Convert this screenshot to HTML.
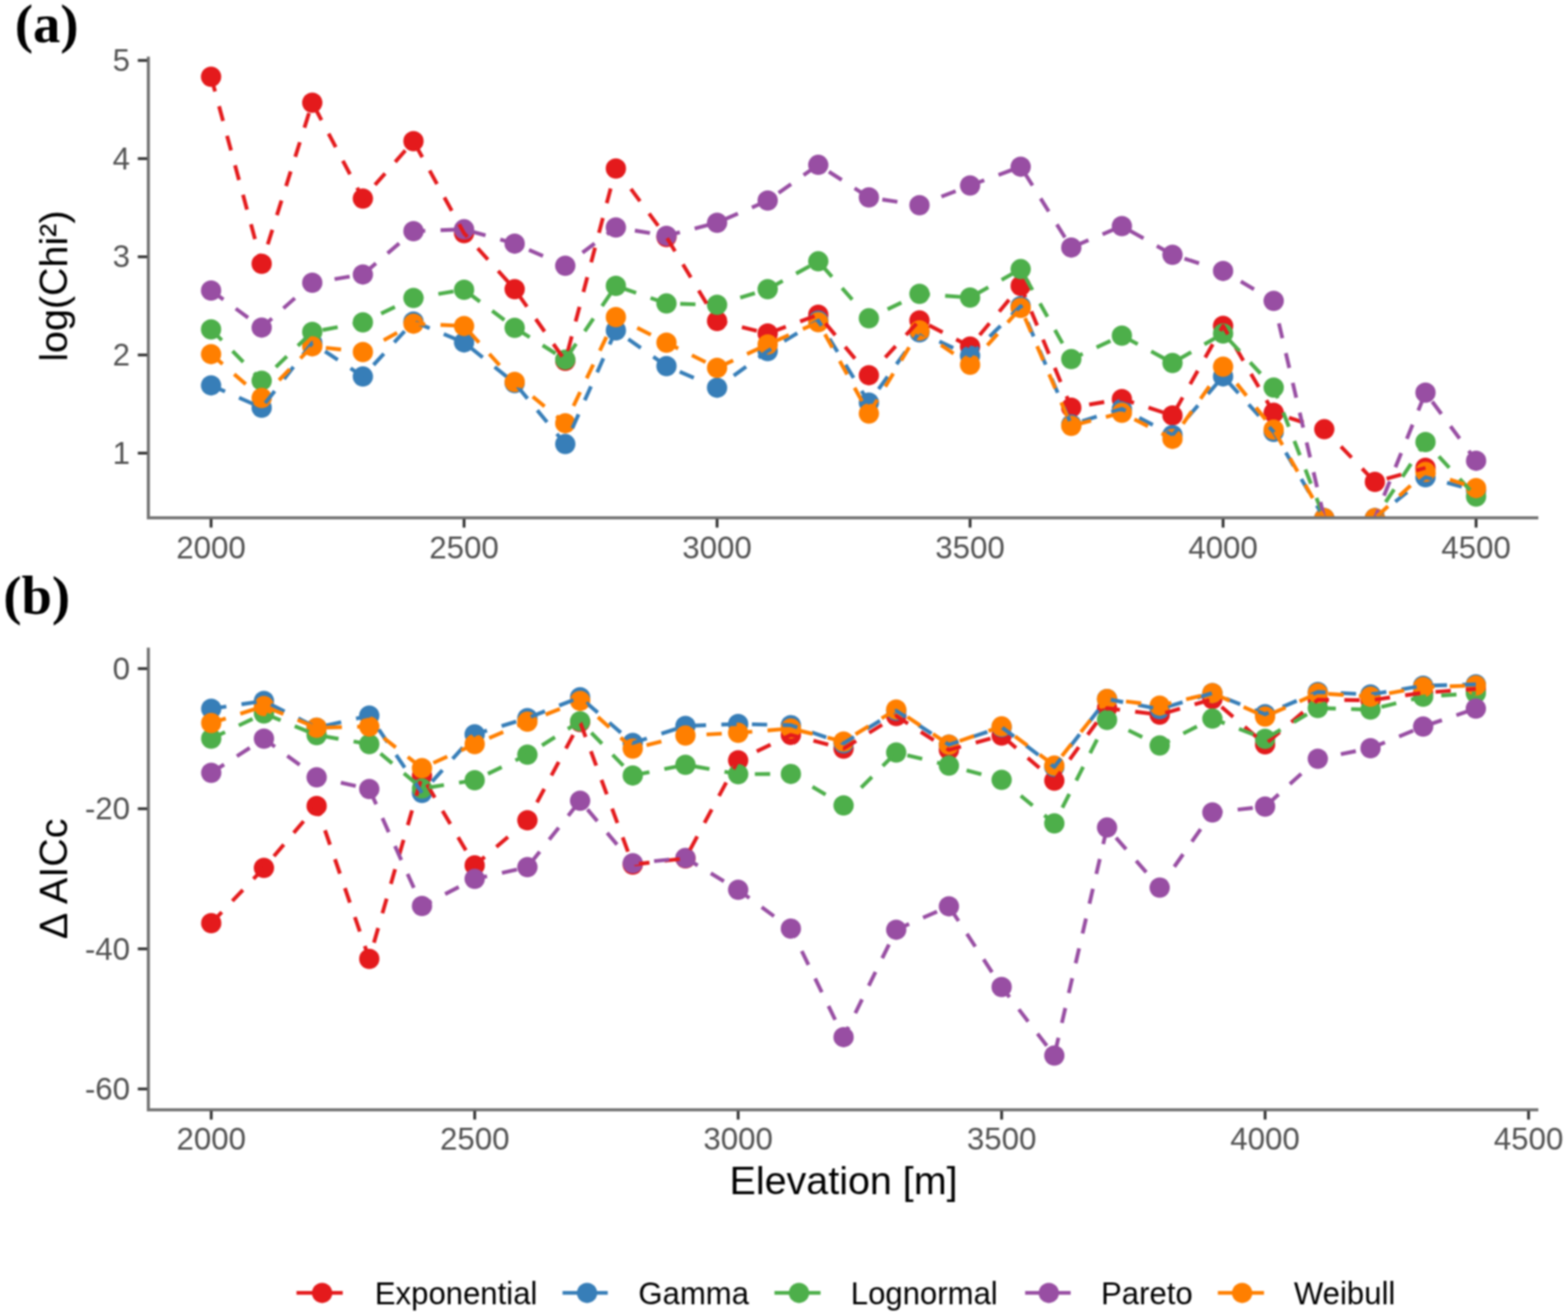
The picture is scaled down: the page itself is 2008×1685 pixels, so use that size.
<!DOCTYPE html>
<html lang="en">
<head>
<meta charset="utf-8">
<title>Goodness of fit by elevation</title>
<style>
html,body{margin:0;padding:0;background:#fff;}
body{width:2008px;height:1685px;overflow:hidden;}
svg{display:block;font-family:"Liberation Sans",Arial,Helvetica,sans-serif;filter:blur(0.8px);}
.tk text{font-size:40px;}
.yl,.xl{font-size:50.5px;fill:#000;}
.lg{font-size:39.85px;fill:#000;}
.pl{font-family:"Liberation Serif","Times New Roman",Times,serif;font-weight:bold;font-size:70px;fill:#000;}
</style>
</head>
<body>
<svg width="2008" height="1685" viewBox="0 0 2008 1685">
<defs>
<clipPath id="ca"><rect x="190" y="72.5" width="1780" height="590.5"/></clipPath>
<clipPath id="cb"><rect x="190" y="829" width="1780" height="592"/></clipPath>
</defs>
<rect width="2008" height="1685" fill="#ffffff"/>
<g id="panel-a">
<g clip-path="url(#ca)">
<g fill="#E41A1C">
<circle cx="270.3" cy="98.2" r="13"/>
<circle cx="335.1" cy="337.7" r="13"/>
<circle cx="399.9" cy="131.5" r="13"/>
<circle cx="464.7" cy="254.3" r="13"/>
<circle cx="529.5" cy="180.8" r="13"/>
<circle cx="594.3" cy="298.6" r="13"/>
<circle cx="659.1" cy="370.3" r="13"/>
<circle cx="723.9" cy="462" r="13"/>
<circle cx="788.7" cy="215.8" r="13"/>
<circle cx="853.5" cy="303.5" r="13"/>
<circle cx="918.3" cy="411" r="13"/>
<circle cx="983.1" cy="427" r="13"/>
<circle cx="1047.9" cy="403" r="13"/>
<circle cx="1112.7" cy="480.4" r="13"/>
<circle cx="1177.5" cy="410.2" r="13"/>
<circle cx="1242.3" cy="443.7" r="13"/>
<circle cx="1307.1" cy="366" r="13"/>
<circle cx="1371.9" cy="521.9" r="13"/>
<circle cx="1436.7" cy="510.9" r="13"/>
<circle cx="1501.5" cy="531.9" r="13"/>
<circle cx="1566.3" cy="417.3" r="13"/>
<circle cx="1631.1" cy="528.5" r="13"/>
<circle cx="1695.9" cy="549.6" r="13"/>
<circle cx="1760.7" cy="617" r="13"/>
<circle cx="1825.5" cy="599" r="13"/>
</g>
<g fill="#377EB8">
<circle cx="270.3" cy="493.4" r="13"/>
<circle cx="335.1" cy="522" r="13"/>
<circle cx="399.9" cy="439" r="13"/>
<circle cx="464.7" cy="482.1" r="13"/>
<circle cx="529.5" cy="411.7" r="13"/>
<circle cx="594.3" cy="438.4" r="13"/>
<circle cx="659.1" cy="490.5" r="13"/>
<circle cx="723.9" cy="568.6" r="13"/>
<circle cx="788.7" cy="423" r="13"/>
<circle cx="853.5" cy="468.7" r="13"/>
<circle cx="918.3" cy="496.4" r="13"/>
<circle cx="983.1" cy="449.5" r="13"/>
<circle cx="1047.9" cy="410.5" r="13"/>
<circle cx="1112.7" cy="515.5" r="13"/>
<circle cx="1177.5" cy="425.5" r="13"/>
<circle cx="1242.3" cy="455.4" r="13"/>
<circle cx="1307.1" cy="392" r="13"/>
<circle cx="1371.9" cy="543.5" r="13"/>
<circle cx="1436.7" cy="523.5" r="13"/>
<circle cx="1501.5" cy="557" r="13"/>
<circle cx="1566.3" cy="481.9" r="13"/>
<circle cx="1631.1" cy="553" r="13"/>
<circle cx="1695.9" cy="663.6" r="13"/>
<circle cx="1760.7" cy="663.6" r="13"/>
<circle cx="1825.5" cy="611" r="13"/>
<circle cx="1890.3" cy="628" r="13"/>
</g>
<g fill="#4DAF4A">
<circle cx="270.3" cy="421.7" r="13"/>
<circle cx="335.1" cy="487.4" r="13"/>
<circle cx="399.9" cy="425" r="13"/>
<circle cx="464.7" cy="412.7" r="13"/>
<circle cx="529.5" cy="381.5" r="13"/>
<circle cx="594.3" cy="371" r="13"/>
<circle cx="659.1" cy="419.7" r="13"/>
<circle cx="723.9" cy="460.4" r="13"/>
<circle cx="788.7" cy="366" r="13"/>
<circle cx="853.5" cy="388.6" r="13"/>
<circle cx="918.3" cy="390.3" r="13"/>
<circle cx="983.1" cy="370.3" r="13"/>
<circle cx="1047.9" cy="334.6" r="13"/>
<circle cx="1112.7" cy="407.6" r="13"/>
<circle cx="1177.5" cy="376.3" r="13"/>
<circle cx="1242.3" cy="381" r="13"/>
<circle cx="1307.1" cy="344.6" r="13"/>
<circle cx="1371.9" cy="459.7" r="13"/>
<circle cx="1436.7" cy="429.7" r="13"/>
<circle cx="1501.5" cy="464.7" r="13"/>
<circle cx="1566.3" cy="427" r="13"/>
<circle cx="1631.1" cy="496.3" r="13"/>
<circle cx="1695.9" cy="663.6" r="13"/>
<circle cx="1760.7" cy="663.6" r="13"/>
<circle cx="1825.5" cy="566" r="13"/>
<circle cx="1890.3" cy="635.8" r="13"/>
</g>
<g fill="#984EA3">
<circle cx="270.3" cy="372" r="13"/>
<circle cx="335.1" cy="419.4" r="13"/>
<circle cx="399.9" cy="362" r="13"/>
<circle cx="464.7" cy="351.4" r="13"/>
<circle cx="529.5" cy="296" r="13"/>
<circle cx="594.3" cy="293.6" r="13"/>
<circle cx="659.1" cy="311.9" r="13"/>
<circle cx="723.9" cy="340.2" r="13"/>
<circle cx="788.7" cy="291.2" r="13"/>
<circle cx="853.5" cy="301.9" r="13"/>
<circle cx="918.3" cy="285.2" r="13"/>
<circle cx="983.1" cy="256.8" r="13"/>
<circle cx="1047.9" cy="211.1" r="13"/>
<circle cx="1112.7" cy="252.8" r="13"/>
<circle cx="1177.5" cy="262.8" r="13"/>
<circle cx="1242.3" cy="237.5" r="13"/>
<circle cx="1307.1" cy="213.4" r="13"/>
<circle cx="1371.9" cy="316.9" r="13"/>
<circle cx="1436.7" cy="289.5" r="13"/>
<circle cx="1501.5" cy="326.2" r="13"/>
<circle cx="1566.3" cy="346.9" r="13"/>
<circle cx="1631.1" cy="385.3" r="13"/>
<circle cx="1695.9" cy="663.6" r="13"/>
<circle cx="1760.7" cy="663.6" r="13"/>
<circle cx="1825.5" cy="502.7" r="13"/>
<circle cx="1890.3" cy="589.9" r="13"/>
</g>
<g fill="#FF7F00">
<circle cx="270.3" cy="453.4" r="13"/>
<circle cx="335.1" cy="509.5" r="13"/>
<circle cx="399.9" cy="443.4" r="13"/>
<circle cx="464.7" cy="450.7" r="13"/>
<circle cx="529.5" cy="414.4" r="13"/>
<circle cx="594.3" cy="417.4" r="13"/>
<circle cx="659.1" cy="489" r="13"/>
<circle cx="723.9" cy="541.9" r="13"/>
<circle cx="788.7" cy="406" r="13"/>
<circle cx="853.5" cy="438.7" r="13"/>
<circle cx="918.3" cy="471" r="13"/>
<circle cx="983.1" cy="441" r="13"/>
<circle cx="1047.9" cy="412.6" r="13"/>
<circle cx="1112.7" cy="529.6" r="13"/>
<circle cx="1177.5" cy="423" r="13"/>
<circle cx="1242.3" cy="467" r="13"/>
<circle cx="1307.1" cy="394.3" r="13"/>
<circle cx="1371.9" cy="545.2" r="13"/>
<circle cx="1436.7" cy="528.6" r="13"/>
<circle cx="1501.5" cy="561.9" r="13"/>
<circle cx="1566.3" cy="469.5" r="13"/>
<circle cx="1631.1" cy="550" r="13"/>
<circle cx="1695.9" cy="663.6" r="13"/>
<circle cx="1760.7" cy="663.6" r="13"/>
<circle cx="1825.5" cy="604.2" r="13"/>
<circle cx="1890.3" cy="624.9" r="13"/>
</g>
<g fill="none" stroke-width="4.9" stroke-dasharray="19.58 19.58" stroke-linejoin="round">
<polyline stroke="#E41A1C" points="270.3,98.2 335.1,337.7 399.9,131.5 464.7,254.3 529.5,180.8 594.3,298.6 659.1,370.3 723.9,462 788.7,215.8 853.5,303.5 918.3,411 983.1,427 1047.9,403 1112.7,480.4 1177.5,410.2 1242.3,443.7 1307.1,366 1371.9,521.9 1436.7,510.9 1501.5,531.9 1566.3,417.3 1631.1,528.5 1695.9,549.6 1760.7,617 1825.5,599"/>
<polyline stroke="#377EB8" points="270.3,493.4 335.1,522 399.9,439 464.7,482.1 529.5,411.7 594.3,438.4 659.1,490.5 723.9,568.6 788.7,423 853.5,468.7 918.3,496.4 983.1,449.5 1047.9,410.5 1112.7,515.5 1177.5,425.5 1242.3,455.4 1307.1,392 1371.9,543.5 1436.7,523.5 1501.5,557 1566.3,481.9 1631.1,553 1695.9,663.6 1760.7,663.6 1825.5,611 1890.3,628"/>
<polyline stroke="#4DAF4A" points="270.3,421.7 335.1,487.4 399.9,425 464.7,412.7 529.5,381.5 594.3,371 659.1,419.7 723.9,460.4 788.7,366 853.5,388.6 918.3,390.3 983.1,370.3 1047.9,334.6 1112.7,407.6 1177.5,376.3 1242.3,381 1307.1,344.6 1371.9,459.7 1436.7,429.7 1501.5,464.7 1566.3,427 1631.1,496.3 1695.9,663.6 1760.7,663.6 1825.5,566 1890.3,635.8"/>
<polyline stroke="#984EA3" points="270.3,372 335.1,419.4 399.9,362 464.7,351.4 529.5,296 594.3,293.6 659.1,311.9 723.9,340.2 788.7,291.2 853.5,301.9 918.3,285.2 983.1,256.8 1047.9,211.1 1112.7,252.8 1177.5,262.8 1242.3,237.5 1307.1,213.4 1371.9,316.9 1436.7,289.5 1501.5,326.2 1566.3,346.9 1631.1,385.3 1695.9,663.6 1760.7,663.6 1825.5,502.7 1890.3,589.9"/>
<polyline stroke="#FF7F00" points="270.3,453.4 335.1,509.5 399.9,443.4 464.7,450.7 529.5,414.4 594.3,417.4 659.1,489 723.9,541.9 788.7,406 853.5,438.7 918.3,471 983.1,441 1047.9,412.6 1112.7,529.6 1177.5,423 1242.3,467 1307.1,394.3 1371.9,545.2 1436.7,528.6 1501.5,561.9 1566.3,469.5 1631.1,550 1695.9,663.6 1760.7,663.6 1825.5,604.2 1890.3,624.9"/>
</g></g>
<g stroke="#767676" stroke-width="4.0" fill="none">
<line x1="190" y1="72.5" x2="190" y2="665.0"/>
<line x1="188.0" y1="663" x2="1970" y2="663"/>
</g>
<g stroke="#333333" stroke-width="3.6">
<line x1="270.3" y1="664.5" x2="270.3" y2="675.5"/>
<line x1="594.3" y1="664.5" x2="594.3" y2="675.5"/>
<line x1="918.3" y1="664.5" x2="918.3" y2="675.5"/>
<line x1="1242.3" y1="664.5" x2="1242.3" y2="675.5"/>
<line x1="1566.3" y1="664.5" x2="1566.3" y2="675.5"/>
<line x1="1890.3" y1="664.5" x2="1890.3" y2="675.5"/>
<line x1="176.5" y1="77.4" x2="188.5" y2="77.4"/>
<line x1="176.5" y1="203.1" x2="188.5" y2="203.1"/>
<line x1="176.5" y1="328.8" x2="188.5" y2="328.8"/>
<line x1="176.5" y1="454.5" x2="188.5" y2="454.5"/>
<line x1="176.5" y1="580.2" x2="188.5" y2="580.2"/>
</g>
<g class="tk" fill="#525252">
<text x="270.3" y="714.5" text-anchor="middle">2000</text>
<text x="594.3" y="714.5" text-anchor="middle">2500</text>
<text x="918.3" y="714.5" text-anchor="middle">3000</text>
<text x="1242.3" y="714.5" text-anchor="middle">3500</text>
<text x="1566.3" y="714.5" text-anchor="middle">4000</text>
<text x="1890.3" y="714.5" text-anchor="middle">4500</text>
<text x="166.5" y="91" text-anchor="end">5</text>
<text x="166.5" y="216.7" text-anchor="end">4</text>
<text x="166.5" y="342.4" text-anchor="end">3</text>
<text x="166.5" y="468.1" text-anchor="end">2</text>
<text x="166.5" y="593.8" text-anchor="end">1</text>
</g>
<text class="yl" transform="translate(86,366.3) rotate(-90)" text-anchor="middle">log(Chi²)</text>
<text class="pl" x="59.8" y="53.5" text-anchor="middle">(a)</text>
</g>
<g id="panel-b">
<g clip-path="url(#cb)">
<g fill="#E41A1C">
<circle cx="270.5" cy="1182" r="13"/>
<circle cx="338" cy="1111.3" r="13"/>
<circle cx="405.5" cy="1031.9" r="13"/>
<circle cx="472.9" cy="1227.8" r="13"/>
<circle cx="540.4" cy="993.5" r="13"/>
<circle cx="607.9" cy="1108" r="13"/>
<circle cx="675.4" cy="1050.3" r="13"/>
<circle cx="742.9" cy="924.5" r="13"/>
<circle cx="810.3" cy="1107" r="13"/>
<circle cx="877.8" cy="1099" r="13"/>
<circle cx="945.3" cy="973.5" r="13"/>
<circle cx="1012.8" cy="941" r="13"/>
<circle cx="1080.3" cy="958.5" r="13"/>
<circle cx="1147.7" cy="916.8" r="13"/>
<circle cx="1215.2" cy="960.2" r="13"/>
<circle cx="1282.7" cy="941.8" r="13"/>
<circle cx="1350.2" cy="999.5" r="13"/>
<circle cx="1417.7" cy="906.8" r="13"/>
<circle cx="1485.1" cy="915.1" r="13"/>
<circle cx="1552.6" cy="895.1" r="13"/>
<circle cx="1620.1" cy="953" r="13"/>
<circle cx="1687.6" cy="896" r="13"/>
<circle cx="1755.1" cy="896.6" r="13"/>
<circle cx="1822.5" cy="887" r="13"/>
<circle cx="1890" cy="882" r="13"/>
</g>
<g fill="#377EB8">
<circle cx="270.5" cy="907.5" r="13"/>
<circle cx="338" cy="897.5" r="13"/>
<circle cx="405.5" cy="931.8" r="13"/>
<circle cx="472.9" cy="916.2" r="13"/>
<circle cx="540.4" cy="1015.2" r="13"/>
<circle cx="607.9" cy="940.2" r="13"/>
<circle cx="675.4" cy="919.5" r="13"/>
<circle cx="742.9" cy="892.8" r="13"/>
<circle cx="810.3" cy="951.3" r="13"/>
<circle cx="877.8" cy="929.5" r="13"/>
<circle cx="945.3" cy="927" r="13"/>
<circle cx="1012.8" cy="928.5" r="13"/>
<circle cx="1080.3" cy="951.8" r="13"/>
<circle cx="1147.7" cy="910" r="13"/>
<circle cx="1215.2" cy="953.5" r="13"/>
<circle cx="1282.7" cy="931" r="13"/>
<circle cx="1350.2" cy="982" r="13"/>
<circle cx="1417.7" cy="895" r="13"/>
<circle cx="1485.1" cy="908" r="13"/>
<circle cx="1552.6" cy="887.4" r="13"/>
<circle cx="1620.1" cy="914.5" r="13"/>
<circle cx="1687.6" cy="886" r="13"/>
<circle cx="1755.1" cy="889.2" r="13"/>
<circle cx="1822.5" cy="878" r="13"/>
<circle cx="1890" cy="876.3" r="13"/>
</g>
<g fill="#4DAF4A">
<circle cx="270.5" cy="945.8" r="13"/>
<circle cx="338" cy="913.5" r="13"/>
<circle cx="405.5" cy="941.2" r="13"/>
<circle cx="472.9" cy="952.8" r="13"/>
<circle cx="540.4" cy="1009.6" r="13"/>
<circle cx="607.9" cy="999" r="13"/>
<circle cx="675.4" cy="966.2" r="13"/>
<circle cx="742.9" cy="923.5" r="13"/>
<circle cx="810.3" cy="992.9" r="13"/>
<circle cx="877.8" cy="979.2" r="13"/>
<circle cx="945.3" cy="991.2" r="13"/>
<circle cx="1012.8" cy="990.9" r="13"/>
<circle cx="1080.3" cy="1031.2" r="13"/>
<circle cx="1147.7" cy="963.5" r="13"/>
<circle cx="1215.2" cy="980.2" r="13"/>
<circle cx="1282.7" cy="998.5" r="13"/>
<circle cx="1350.2" cy="1054.3" r="13"/>
<circle cx="1417.7" cy="921.8" r="13"/>
<circle cx="1485.1" cy="954.5" r="13"/>
<circle cx="1552.6" cy="920.1" r="13"/>
<circle cx="1620.1" cy="946" r="13"/>
<circle cx="1687.6" cy="906.6" r="13"/>
<circle cx="1755.1" cy="908.6" r="13"/>
<circle cx="1822.5" cy="892" r="13"/>
<circle cx="1890" cy="887.6" r="13"/>
</g>
<g fill="#984EA3">
<circle cx="270.5" cy="989.5" r="13"/>
<circle cx="338" cy="945.8" r="13"/>
<circle cx="405.5" cy="995.2" r="13"/>
<circle cx="472.9" cy="1010.2" r="13"/>
<circle cx="540.4" cy="1160" r="13"/>
<circle cx="607.9" cy="1125.3" r="13"/>
<circle cx="675.4" cy="1110.3" r="13"/>
<circle cx="742.9" cy="1025.2" r="13"/>
<circle cx="810.3" cy="1105.3" r="13"/>
<circle cx="877.8" cy="1098.6" r="13"/>
<circle cx="945.3" cy="1139.3" r="13"/>
<circle cx="1012.8" cy="1189" r="13"/>
<circle cx="1080.3" cy="1327.9" r="13"/>
<circle cx="1147.7" cy="1190.4" r="13"/>
<circle cx="1215.2" cy="1160.4" r="13"/>
<circle cx="1282.7" cy="1263.7" r="13"/>
<circle cx="1350.2" cy="1351.5" r="13"/>
<circle cx="1417.7" cy="1059.6" r="13"/>
<circle cx="1485.1" cy="1136.5" r="13"/>
<circle cx="1552.6" cy="1040.2" r="13"/>
<circle cx="1620.1" cy="1032.8" r="13"/>
<circle cx="1687.6" cy="971.5" r="13"/>
<circle cx="1755.1" cy="958" r="13"/>
<circle cx="1822.5" cy="930.3" r="13"/>
<circle cx="1890" cy="907.2" r="13"/>
</g>
<g fill="#FF7F00">
<circle cx="270.5" cy="925.8" r="13"/>
<circle cx="338" cy="904.1" r="13"/>
<circle cx="405.5" cy="931.8" r="13"/>
<circle cx="472.9" cy="930.2" r="13"/>
<circle cx="540.4" cy="983.5" r="13"/>
<circle cx="607.9" cy="952.8" r="13"/>
<circle cx="675.4" cy="924.1" r="13"/>
<circle cx="742.9" cy="897.4" r="13"/>
<circle cx="810.3" cy="958.5" r="13"/>
<circle cx="877.8" cy="941.8" r="13"/>
<circle cx="945.3" cy="938.3" r="13"/>
<circle cx="1012.8" cy="932.8" r="13"/>
<circle cx="1080.3" cy="949.5" r="13"/>
<circle cx="1147.7" cy="908.4" r="13"/>
<circle cx="1215.2" cy="953.5" r="13"/>
<circle cx="1282.7" cy="930.1" r="13"/>
<circle cx="1350.2" cy="980.2" r="13"/>
<circle cx="1417.7" cy="895.1" r="13"/>
<circle cx="1485.1" cy="903.4" r="13"/>
<circle cx="1552.6" cy="887.4" r="13"/>
<circle cx="1620.1" cy="917.5" r="13"/>
<circle cx="1687.6" cy="887.6" r="13"/>
<circle cx="1755.1" cy="892" r="13"/>
<circle cx="1822.5" cy="879.7" r="13"/>
<circle cx="1890" cy="877.7" r="13"/>
</g>
<g fill="none" stroke-width="4.9" stroke-dasharray="19.58 19.58" stroke-linejoin="round">
<polyline stroke="#E41A1C" points="270.5,1182 338,1111.3 405.5,1031.9 472.9,1227.8 540.4,993.5 607.9,1108 675.4,1050.3 742.9,924.5 810.3,1107 877.8,1099 945.3,973.5 1012.8,941 1080.3,958.5 1147.7,916.8 1215.2,960.2 1282.7,941.8 1350.2,999.5 1417.7,906.8 1485.1,915.1 1552.6,895.1 1620.1,953 1687.6,896 1755.1,896.6 1822.5,887 1890,882"/>
<polyline stroke="#377EB8" points="270.5,907.5 338,897.5 405.5,931.8 472.9,916.2 540.4,1015.2 607.9,940.2 675.4,919.5 742.9,892.8 810.3,951.3 877.8,929.5 945.3,927 1012.8,928.5 1080.3,951.8 1147.7,910 1215.2,953.5 1282.7,931 1350.2,982 1417.7,895 1485.1,908 1552.6,887.4 1620.1,914.5 1687.6,886 1755.1,889.2 1822.5,878 1890,876.3"/>
<polyline stroke="#4DAF4A" points="270.5,945.8 338,913.5 405.5,941.2 472.9,952.8 540.4,1009.6 607.9,999 675.4,966.2 742.9,923.5 810.3,992.9 877.8,979.2 945.3,991.2 1012.8,990.9 1080.3,1031.2 1147.7,963.5 1215.2,980.2 1282.7,998.5 1350.2,1054.3 1417.7,921.8 1485.1,954.5 1552.6,920.1 1620.1,946 1687.6,906.6 1755.1,908.6 1822.5,892 1890,887.6"/>
<polyline stroke="#984EA3" points="270.5,989.5 338,945.8 405.5,995.2 472.9,1010.2 540.4,1160 607.9,1125.3 675.4,1110.3 742.9,1025.2 810.3,1105.3 877.8,1098.6 945.3,1139.3 1012.8,1189 1080.3,1327.9 1147.7,1190.4 1215.2,1160.4 1282.7,1263.7 1350.2,1351.5 1417.7,1059.6 1485.1,1136.5 1552.6,1040.2 1620.1,1032.8 1687.6,971.5 1755.1,958 1822.5,930.3 1890,907.2"/>
<polyline stroke="#FF7F00" points="270.5,925.8 338,904.1 405.5,931.8 472.9,930.2 540.4,983.5 607.9,952.8 675.4,924.1 742.9,897.4 810.3,958.5 877.8,941.8 945.3,938.3 1012.8,932.8 1080.3,949.5 1147.7,908.4 1215.2,953.5 1282.7,930.1 1350.2,980.2 1417.7,895.1 1485.1,903.4 1552.6,887.4 1620.1,917.5 1687.6,887.6 1755.1,892 1822.5,879.7 1890,877.7"/>
</g></g>
<g stroke="#767676" stroke-width="4.0" fill="none">
<line x1="190" y1="829.2" x2="190" y2="1423.0"/>
<line x1="188.0" y1="1421" x2="1970" y2="1421"/>
</g>
<g stroke="#333333" stroke-width="3.6">
<line x1="270.5" y1="1422.5" x2="270.5" y2="1433.5"/>
<line x1="607.9" y1="1422.5" x2="607.9" y2="1433.5"/>
<line x1="945.3" y1="1422.5" x2="945.3" y2="1433.5"/>
<line x1="1282.7" y1="1422.5" x2="1282.7" y2="1433.5"/>
<line x1="1620.1" y1="1422.5" x2="1620.1" y2="1433.5"/>
<line x1="1957.5" y1="1422.5" x2="1957.5" y2="1433.5"/>
<line x1="176.5" y1="856.1" x2="188.5" y2="856.1"/>
<line x1="176.5" y1="1035.5" x2="188.5" y2="1035.5"/>
<line x1="176.5" y1="1214.9" x2="188.5" y2="1214.9"/>
<line x1="176.5" y1="1394.3" x2="188.5" y2="1394.3"/>
</g>
<g class="tk" fill="#525252">
<text x="270.5" y="1472.4" text-anchor="middle">2000</text>
<text x="607.9" y="1472.4" text-anchor="middle">2500</text>
<text x="945.3" y="1472.4" text-anchor="middle">3000</text>
<text x="1282.7" y="1472.4" text-anchor="middle">3500</text>
<text x="1620.1" y="1472.4" text-anchor="middle">4000</text>
<text x="1957.5" y="1472.4" text-anchor="middle">4500</text>
<text x="166.5" y="869.7" text-anchor="end">0</text>
<text x="166.5" y="1049.1" text-anchor="end">-20</text>
<text x="166.5" y="1228.5" text-anchor="end">-40</text>
<text x="166.5" y="1407.9" text-anchor="end">-60</text>
</g>
<text class="yl" transform="translate(86,1125.3) rotate(-90)" text-anchor="middle">Δ AICc</text>
<text class="xl" x="1080.3" y="1529.2" text-anchor="middle">Elevation [m]</text>
<text class="pl" x="47.1" y="785.5" text-anchor="middle">(b)</text>
</g>
<g id="legend">
<line x1="379.7" y1="1655.4" x2="438.9" y2="1655.4" stroke="#E41A1C" stroke-width="4.9"/>
<circle cx="412.5" cy="1655.4" r="13.0" fill="#E41A1C"/>
<text class="lg" x="480.0" y="1669.5">Exponential</text>
<line x1="720.4" y1="1655.4" x2="778.3" y2="1655.4" stroke="#377EB8" stroke-width="4.9"/>
<circle cx="751.8" cy="1655.4" r="13.0" fill="#377EB8"/>
<text class="lg" x="817.5" y="1669.5">Gamma</text>
<line x1="991.8" y1="1655.4" x2="1050.8" y2="1655.4" stroke="#4DAF4A" stroke-width="4.9"/>
<circle cx="1023.2" cy="1655.4" r="13.0" fill="#4DAF4A"/>
<text class="lg" x="1089.5" y="1669.5">Lognormal</text>
<line x1="1312.8" y1="1655.4" x2="1371.1" y2="1655.4" stroke="#984EA3" stroke-width="4.9"/>
<circle cx="1343.1" cy="1655.4" r="13.0" fill="#984EA3"/>
<text class="lg" x="1410" y="1669.5">Pareto</text>
<line x1="1559.6" y1="1655.4" x2="1618.7" y2="1655.4" stroke="#FF7F00" stroke-width="4.9"/>
<circle cx="1590.7" cy="1655.4" r="13.0" fill="#FF7F00"/>
<text class="lg" x="1657" y="1669.5">Weibull</text>
</g>
</svg>
</body>
</html>
